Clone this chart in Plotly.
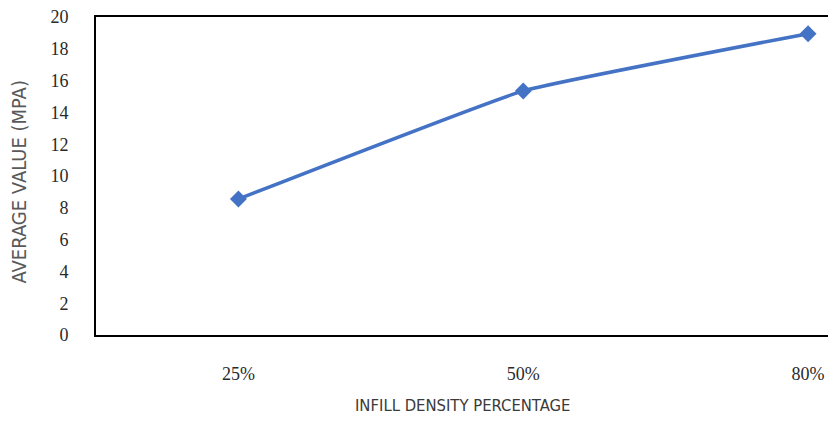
import plotly.graph_objects as go

# Infill density vs. average strength
categories = ["25%", "50%", "80%"]
average_mpa = [8.55, 15.35, 18.95]
y_ticks = [0, 2, 4, 6, 8, 10, 12, 14, 16, 18, 20]

x_pos = list(range(len(categories)))

fig = go.Figure()
fig.add_trace(go.Scatter(
    x=x_pos,
    y=average_mpa,
    mode="lines+markers",
    line=dict(color="#4472C4", width=3.5, shape="spline", smoothing=0.3),
    marker=dict(symbol="diamond", size=13, color="#4472C4"),
    showlegend=False,
    hoverinfo="skip",
))

tick_font = dict(family="Liberation Serif", size=18, color="#2a2a2a")

fig.update_layout(
    width=828,
    height=422,
    margin=dict(l=96, r=0, t=17, b=87),
    paper_bgcolor="white",
    plot_bgcolor="white",
    xaxis=dict(
        range=[-0.5, 2.07],
        tickmode="array",
        tickvals=x_pos,
        ticktext=categories,
        tickfont=tick_font,
        showgrid=False,
        zeroline=False,
        showline=True,
        linecolor="#000000",
        linewidth=2,
        mirror=True,
        ticks="",
        ticklabelstandoff=21,
    ),
    yaxis=dict(
        range=[0, 20],
        tickmode="array",
        tickvals=y_ticks,
        tickfont=tick_font,
        showgrid=False,
        zeroline=False,
        showline=True,
        linecolor="#000000",
        linewidth=2,
        ticks="",
        ticklabelstandoff=22,
    ),
)

title_family = "DejaVu Sans Condensed, Liberation Sans Narrow, Liberation Sans"

fig.add_annotation(
    text="AVERAGE VALUE (MPA)",
    xref="paper", yref="paper",
    x=-0.105, y=0.48,
    xanchor="center", yanchor="middle",
    textangle=-90,
    showarrow=False,
    font=dict(family=title_family, size=20, color="#595959"),
)
fig.add_annotation(
    text="INFILL DENSITY PERCENTAGE",
    xref="paper", yref="paper",
    x=0.5, y=-0.258,
    xanchor="center", yanchor="bottom",
    showarrow=False,
    font=dict(family=title_family, size=16.5, color="#3a3a3a"),
)

fig.write_html("out.html")
